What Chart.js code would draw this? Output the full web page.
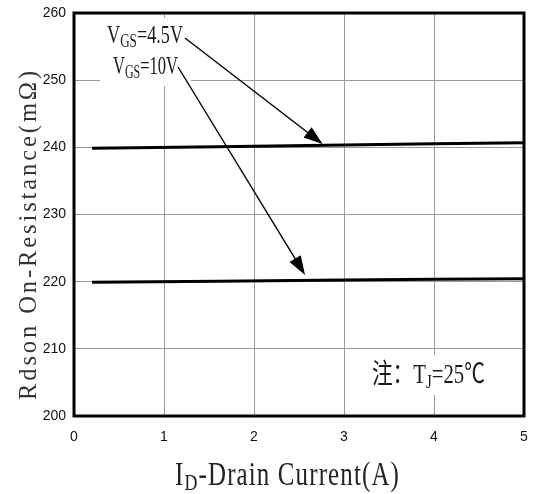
<!DOCTYPE html>
<html><head><meta charset="utf-8">
<script src="https://cdn.jsdelivr.net/npm/chart.js@4/dist/chart.umd.min.js"></script>
<style>html,body{margin:0;padding:0;background:#fff;overflow:hidden;}#wrap{width:535px;height:494px;position:relative;}</style>
</head><body><div id="wrap"><canvas id="c"></canvas></div>
<script>
// ---- data ----
const xTicks = [0, 1, 2, 3, 4, 5];
const yTicks = [200, 210, 220, 230, 240, 250, 260];
const currentA = [0.2, 3, 5];
const rdsonVgs45 = [239.85, 240.35, 240.7];
const rdsonVgs10 = [219.9, 220.25, 220.45];
// arrows: from label to curve, [x0, y0, x1, y1] in data units
const arrowVgs45 = [1.233, 256.28, 2.763, 240.5];
const arrowVgs10 = [1.156, 251.96, 2.567, 221.0];
// texts (part, isSubscript)
const labelVgs45 = [['V', 0], ['GS', 1], ['=4.5V', 0]];
const labelVgs10 = [['V', 0], ['GS', 1], ['=10V', 0]];
const noteText = [['注：T', 0], ['J', 1], ['=25℃', 0]];
const xTitle = [['I', 0], ['D', 1], ['-Drain Current(A)', 0]];
const yTitle = [['Rdson On-Resistance(mΩ)', 0]];

const FAM = "'Liberation Serif','Noto Sans CJK SC',serif";
const TICKFONT = "'Liberation Sans Narrow','Liberation Sans',Arial,sans-serif";

function measure(ctx, parts, size, ls) {
  const ws = [];
  let w = 0;
  parts.forEach(([t, sub]) => {
    ctx.font = (sub ? size * 0.72 : size) + 'px ' + FAM;
    ctx.letterSpacing = ls + 'px';
    const m = ctx.measureText(t).width;
    ws.push(m); w += m;
  });
  ctx.letterSpacing = '0px';
  return {ws, w};
}
// draws rich text starting at x (left), baseline y, fitted to target width
function drawRich(ctx, parts, x, y, size, targetW, ls, color) {
  ls = ls || 0;
  const {ws, w} = measure(ctx, parts, size, ls);
  const sx = targetW / w;
  ctx.save();
  ctx.translate(x, y);
  ctx.scale(sx, 1);
  ctx.fillStyle = color || '#111';
  ctx.textBaseline = 'alphabetic';
  ctx.textAlign = 'left';
  ctx.letterSpacing = ls + 'px';
  let cx = 0;
  parts.forEach(([t, sub], i) => {
    ctx.font = (sub ? size * 0.72 : size) + 'px ' + FAM;
    ctx.fillText(t, cx, sub ? size * 0.16 : 0);
    cx += ws[i];
  });
  ctx.restore();
  ctx.letterSpacing = '0px';
}
function arrow(ctx, xs, ys, a) {
  const x0 = xs.getPixelForValue(a[0]), y0 = ys.getPixelForValue(a[1]);
  const x1 = xs.getPixelForValue(a[2]), y1 = ys.getPixelForValue(a[3]);
  const ang = Math.atan2(y1 - y0, x1 - x0);
  const L = 19, H = 6.5;
  ctx.save();
  ctx.strokeStyle = '#000'; ctx.fillStyle = '#000'; ctx.lineWidth = 1.4;
  ctx.beginPath(); ctx.moveTo(x0, y0);
  ctx.lineTo(x1 - Math.cos(ang) * L * 0.8, y1 - Math.sin(ang) * L * 0.8); ctx.stroke();
  ctx.beginPath();
  ctx.moveTo(x1, y1);
  ctx.lineTo(x1 - Math.cos(ang) * L - Math.sin(ang) * H, y1 - Math.sin(ang) * L + Math.cos(ang) * H);
  ctx.lineTo(x1 - Math.cos(ang) * L + Math.sin(ang) * H, y1 - Math.sin(ang) * L - Math.cos(ang) * H);
  ctx.closePath(); ctx.fill();
  ctx.restore();
}

const deco = {
  id: 'deco',
  beforeDatasetsDraw(chart) {
    const ctx = chart.ctx, xs = chart.scales.x, ys = chart.scales.y;
    ctx.save();
    ctx.fillStyle = '#fff';
    ctx.fillRect(100, 18, 91, 68);
    ctx.fillRect(366, 355, 126, 40);
    ctx.restore();
    drawRich(ctx, labelVgs45, xs.getPixelForValue(0.367), ys.getPixelForValue(255.5), 25, 76, 0, '#1a1a1a');
    drawRich(ctx, labelVgs10, xs.getPixelForValue(0.433), ys.getPixelForValue(250.9), 25, 65, 0, '#1a1a1a');
    drawRich(ctx, noteText, xs.getPixelForValue(3.31), ys.getPixelForValue(204.85), 27, 113, 0, '#1a1a1a');
  },
  afterDatasetsDraw(chart) {
    const ctx = chart.ctx, xs = chart.scales.x, ys = chart.scales.y, a = chart.chartArea;
    arrow(ctx, xs, ys, arrowVgs45);
    arrow(ctx, xs, ys, arrowVgs10);
    ctx.save();
    ctx.strokeStyle = '#000'; ctx.lineWidth = 3;
    ctx.strokeRect(a.left, a.top, a.right - a.left, a.bottom - a.top);
    ctx.restore();
  },
  afterDraw(chart) {
    const ctx = chart.ctx;
    drawRich(ctx, xTitle, 175, 485, 33, 225, 1.5, '#222');
    ctx.save();
    ctx.translate(36, 400);
    ctx.rotate(-Math.PI / 2);
    drawRich(ctx, yTitle, 0, 0, 25, 332, 3, '#333');
    ctx.restore();
  }
};

new Chart(document.getElementById('c'), {
  type: 'line',
  data: {
    datasets: [
      {label: 'VGS=4.5V', data: currentA.map((x, i) => ({x, y: rdsonVgs45[i]})),
       borderColor: '#000', borderWidth: 3, pointRadius: 0, tension: 0.3, fill: false},
      {label: 'VGS=10V', data: currentA.map((x, i) => ({x, y: rdsonVgs10[i]})),
       borderColor: '#000', borderWidth: 3, pointRadius: 0, tension: 0.3, fill: false}
    ]
  },
  options: {
    responsive: true, maintainAspectRatio: false, animation: false,
    layout: {padding: {top: 13, right: 11, left: 0, bottom: 0}},
    plugins: {legend: {display: false}, tooltip: {enabled: false}},
    scales: {
      x: {
        type: 'linear', min: 0, max: 5,
        afterBuildTicks: s => { s.ticks = xTicks.map(v => ({value: v})); },
        afterFit: s => { s.height = 78; s.paddingLeft = 0; s.paddingRight = 0; },
        grid: {color: '#9a9a9a', lineWidth: 1, drawTicks: false},
        border: {display: false},
        ticks: {padding: 13, color: '#111', font: {family: TICKFONT, size: 14}}
      },
      y: {
        type: 'linear', min: 200, max: 260,
        afterBuildTicks: s => { s.ticks = yTicks.map(v => ({value: v})); },
        afterFit: s => { s.width = 74; s.paddingTop = 0; s.paddingBottom = 0; },
        grid: {color: '#9a9a9a', lineWidth: 1, drawTicks: false},
        border: {display: false},
        ticks: {padding: 8, color: '#111', font: {family: TICKFONT, size: 14}}
      }
    }
  },
  plugins: [deco]
});
</script>
</body></html>
